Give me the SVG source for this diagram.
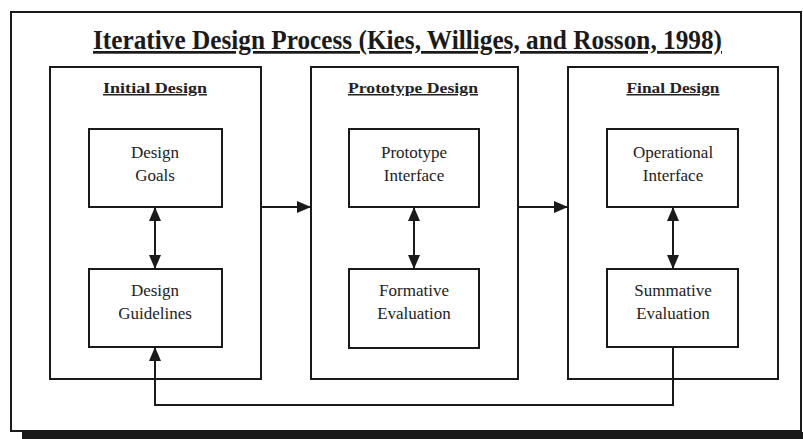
<svg xmlns="http://www.w3.org/2000/svg" width="803" height="439" viewBox="0 0 803 439">
<style>
  .frame{fill:none;stroke:#1a1a1a;stroke-width:2}
  .box{fill:#fff;stroke:#1a1a1a;stroke-width:2}
  .lbl{font-family:"Liberation Serif","Times New Roman",serif;font-size:17px;fill:#222;text-anchor:middle}
  .head{font-family:"Liberation Serif","Times New Roman",serif;font-size:15px;font-weight:bold;fill:#222;text-anchor:middle;text-decoration:underline}
  .title{font-family:"Liberation Serif","Times New Roman",serif;font-size:27px;font-weight:bold;fill:#1a1a1a;text-decoration:underline}
  .conn{fill:none;stroke:#1a1a1a;stroke-width:2}
</style>
<defs>
  <marker id="ah" viewBox="0 0 14 12" refX="14" refY="6" markerWidth="14" markerHeight="12" markerUnits="userSpaceOnUse" orient="auto-start-reverse">
    <path d="M0,0 L14,6 L0,12 Z" fill="#1a1a1a"/>
  </marker>
</defs>
<rect width="803" height="439" fill="#fff"/>
<rect x="22" y="432" width="781" height="7" fill="#1a1a1a"/>
<rect class="frame" x="11" y="12" width="790" height="419"/>
<text class="title" x="93" y="49" textLength="629" lengthAdjust="spacingAndGlyphs">Iterative Design Process (Kies, Williges, and Rosson, 1998)</text>

<g id="initial-design">
  <rect class="frame" x="50" y="67" width="211" height="312"/>
  <text class="head" x="155" y="93" textLength="104" lengthAdjust="spacingAndGlyphs">Initial Design</text>
</g>
<g id="prototype-design">
  <rect class="frame" x="311" y="67" width="207" height="312"/>
  <text class="head" x="413" y="93" textLength="130" lengthAdjust="spacingAndGlyphs">Prototype Design</text>
</g>
<g id="final-design">
  <rect class="frame" x="568" y="67" width="210" height="312"/>
  <text class="head" x="673" y="93" textLength="93" lengthAdjust="spacingAndGlyphs">Final Design</text>
</g>

<g id="design-goals">
  <rect class="box" x="89" y="129" width="133" height="78"/>
  <text class="lbl" x="155" y="158">Design</text>
  <text class="lbl" x="155" y="181">Goals</text>
</g>
<g id="design-guidelines">
  <rect class="box" x="89" y="269" width="133" height="78"/>
  <text class="lbl" x="155" y="296">Design</text>
  <text class="lbl" x="155" y="319">Guidelines</text>
</g>
<g id="prototype-interface">
  <rect class="box" x="349" y="129" width="130" height="78"/>
  <text class="lbl" x="414" y="158">Prototype</text>
  <text class="lbl" x="414" y="181">Interface</text>
</g>
<g id="formative-evaluation">
  <rect class="box" x="349" y="269" width="130" height="79"/>
  <text class="lbl" x="414" y="296">Formative</text>
  <text class="lbl" x="414" y="319">Evaluation</text>
</g>
<g id="operational-interface">
  <rect class="box" x="607" y="129" width="131" height="78"/>
  <text class="lbl" x="673" y="158">Operational</text>
  <text class="lbl" x="673" y="181">Interface</text>
</g>
<g id="summative-evaluation">
  <rect class="box" x="607" y="269" width="131" height="78"/>
  <text class="lbl" x="673" y="296">Summative</text>
  <text class="lbl" x="673" y="319">Evaluation</text>
</g>

<g id="connectors">
  <line class="conn" x1="155" y1="207" x2="155" y2="269" marker-start="url(#ah)" marker-end="url(#ah)"/>
  <line class="conn" x1="414" y1="207" x2="414" y2="269" marker-start="url(#ah)" marker-end="url(#ah)"/>
  <line class="conn" x1="673" y1="207" x2="673" y2="269" marker-start="url(#ah)" marker-end="url(#ah)"/>
  <line class="conn" x1="261" y1="207" x2="311" y2="207" marker-end="url(#ah)"/>
  <line class="conn" x1="518" y1="207" x2="568" y2="207" marker-end="url(#ah)"/>
  <polyline class="conn" points="673,347 673,405 155,405 155,347" marker-end="url(#ah)"/>
</g>
</svg>
